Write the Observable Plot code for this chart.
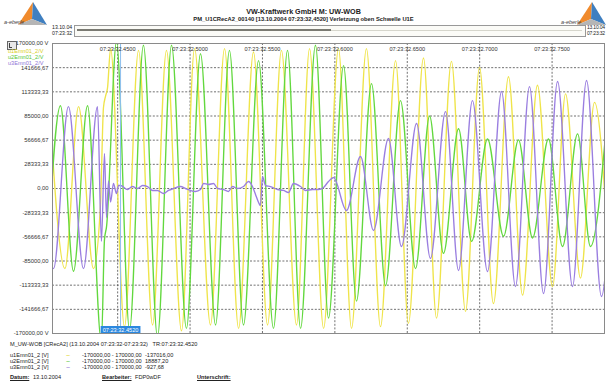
<!DOCTYPE html>
<html>
<head>
<meta charset="utf-8">
<script src="https://cdn.jsdelivr.net/npm/d3@7"></script>
<script src="https://cdn.jsdelivr.net/npm/@observablehq/plot@0.6"></script>
<style>
  html, body { margin: 0; padding: 0; background: #fff; }
  #page { position: relative; width: 607px; height: 385px; overflow: hidden;
          font-family: "Liberation Sans", Arial, sans-serif; color: #222; }
  #chart { position: absolute; left: 0; top: 0; }
  .t { position: absolute; white-space: nowrap; font-size: 5.6px; line-height: 1; }
  .b { font-weight: bold; }
  .u { text-decoration: underline; font-weight: bold; }
  .logo { position: absolute; }
</style>
</head>
<body>
<div id="page">
  <div id="chart"></div>

  <!-- header -->
  <svg class="logo" style="left:2px;top:1px" width="48" height="28" viewBox="0 0 48 28">
    <polygon points="31,1 16,24 30,18" fill="#f08a2c"/>
    <polygon points="31,1 30,18 45,24" fill="#3f7fc0"/>
    <polygon points="16,24 30,18 45,24" fill="#b5b5b5"/>
    <text x="2" y="23" font-size="5.5" font-style="italic" fill="#444" font-family="Liberation Sans, Arial">a-eberle</text>
  </svg>
  <svg class="logo" style="left:559px;top:1px" width="48" height="28" viewBox="0 0 48 28">
    <polygon points="33,1 18,24 32,18" fill="#f08a2c"/>
    <polygon points="33,1 32,18 47,24" fill="#3f7fc0"/>
    <polygon points="18,24 32,18 47,24" fill="#b5b5b5"/>
    <text x="2" y="23" font-size="5.5" font-style="italic" fill="#444" font-family="Liberation Sans, Arial">a-eberle</text>
  </svg>
  <div class="t b" style="left:0;width:607px;text-align:center;top:8px;font-size:7.2px">VW-Kraftwerk GmbH M: UW-WOB</div>
  <div class="t b" style="left:0;width:607px;text-align:center;top:17px;font-size:5.8px">PM_U1CRecA2_00140 [13.10.2004 07:23:32,4520] Verletzung oben Schwelle U1E</div>

  <div class="t" style="left:52px;top:25px;font-size:5.2px">13.10.04</div>
  <div class="t" style="left:52px;top:31px;font-size:5.2px">07:23:32</div>
  <div style="position:absolute;left:74px;top:25px;width:510px;height:10px;border:1px solid #999;background:#fbfbf7"></div>
  <div style="position:absolute;left:77px;top:30px;width:505px;height:1px;background:#d6d6cc"></div>
  <div style="position:absolute;left:77px;top:29px;width:254px;height:2px;background:#7a7a72"></div>
  <div class="t" style="left:587px;top:25px;font-size:5px;letter-spacing:-0.2px">13.10.04</div>
  <div class="t" style="left:587px;top:31px;font-size:5px;letter-spacing:-0.2px">07:23:32</div>

  <!-- channel legend -->
  <div style="position:absolute;left:7px;top:41px;width:8px;height:7px;border:1px solid #666;background:#e8e8e8"></div>
  <div style="position:absolute;left:9px;top:43px;width:2px;height:4px;border-left:1px solid #444;border-bottom:1px solid #444"></div>
  <div class="t" style="left:8px;top:49px;color:#d9cf1c">u1Emn01_2/V</div>
  <div class="t" style="left:8px;top:55px;color:#56c636">u2Emn01_2/V</div>
  <div class="t" style="left:8px;top:61px;color:#8f73d6">u3Emn01_2/V</div>

  <!-- footer -->
  <div class="t" style="left:10px;top:342px">M_UW-WOB [CRecA2] (13.10.2004 07:23:32-07:23:32)&nbsp;&nbsp;&nbsp;TR:07:23:32.4520</div>
  <div class="t" style="left:10px;top:353px">u1Emn01_2 [V]</div>
  <div class="t" style="left:66px;top:352px;color:#e0d420;font-size:7px">~</div>
  <div class="t" style="left:82px;top:353px">-170000,00 - 170000,00</div>
  <div class="t" style="left:145px;top:353px">-137016,00</div>
  <div class="t" style="left:10px;top:359px">u2Emn01_2 [V]</div>
  <div class="t" style="left:66px;top:358px;color:#56c636;font-size:7px">~</div>
  <div class="t" style="left:82px;top:359px">-170000,00 - 170000,00</div>
  <div class="t" style="left:145px;top:359px">18887,20</div>
  <div class="t" style="left:10px;top:365px">u3Emn01_2 [V]</div>
  <div class="t" style="left:66px;top:364px;color:#8f73d6;font-size:7px">~</div>
  <div class="t" style="left:82px;top:365px">-170000,00 - 170000,00</div>
  <div class="t" style="left:145px;top:365px">-927,68</div>
  <div class="t u" style="left:10px;top:375px">Datum:</div>
  <div class="t" style="left:33px;top:375px">13.10.2004</div>
  <div class="t u" style="left:102px;top:375px">Bearbeiter:</div>
  <div class="t" style="left:135px;top:375px">FDP0wDF</div>
  <div class="t u" style="left:197px;top:375px">Unterschrift:</div>
</div>

<script>
// Time axis in 1/10000 s after 07:23:32
const xTicks = [4500, 5000, 5500, 6000, 6500, 7000, 7500];
const yTicks = [170000, 141666.67, 113333.33, 85000, 56666.67, 28333.33, 0,
                -28333.33, -56666.67, -85000, -113333.33, -141666.67, -170000];
const triggerTime = 4520;

// Phase voltage u1 (turning points of the waveform)
const u1Time = [4029, 4136, 4230, 4333, 4381, 4402, 4416, 4430, 4451, 4547, 4644, 4741, 4837, 4941,
  5031, 5141, 5238, 5335, 5438, 5535, 5631, 5735, 5825, 5922, 6025, 6115, 6218, 6315, 6419, 6508,
  6612, 6702, 6805, 6902, 6999, 7095, 7199, 7296, 7399, 7503, 7593, 7696, 7793, 7897];
const u1Volt = [96000, -94000, 96000, -94000, -20000, 95000, 108000, 118000, 164000, -162000, 162000,
  -160000, 162000, -167000, 164000, -160000, 164000, -164000, 160000, -160000, 162000, -160000,
  164000, -164000, 164000, -164000, 164000, -162000, 150000, -158000, 153000, -152000, 149000,
  -144000, 142000, -135000, 131000, -125000, 121000, -115000, 111000, -105000, 101000, -98000];

// Phase voltage u2
const u2Time = [4009, 4105, 4195, 4292, 4388, 4409, 4423, 4492, 4582, 4678, 4775, 4872, 4975, 5072,
  5176, 5272, 5369, 5473, 5576, 5673, 5763, 5866, 5956, 6060, 6149, 6253, 6350, 6453, 6557, 6654,
  6750, 6854, 6944, 7054, 7165, 7268, 7365, 7475, 7572, 7676, 7765, 7876];
const u2Volt = [-97000, 97000, -97000, 97000, -180000, -60000, -45000, 172000, -166000, 168000,
  -174000, 168000, -164000, 158000, -160000, 162000, -160000, 150000, -164000, 162000, -164000,
  168000, -152000, 144000, -132000, 123000, -114000, 103000, -94000, 85000, -76000, 70000, -62000,
  58000, -56000, 57000, -58000, 58000, -68000, 64000, -68000, 76000];

// Phase voltage u3 (collapses at the fault, then recovers)
const u3Time = [3960, 4057, 4160, 4264, 4361, 4388, 4409, 4423, 4437, 4451, 4471, 4492, 4506, 4520,
  4568, 4602, 4637, 4672, 4706, 4741, 4775, 4817, 4851, 4886, 4934, 4968, 5003, 5038, 5072, 5093,
  5127, 5162, 5190, 5231, 5265, 5293, 5328, 5369, 5404, 5431, 5452, 5473, 5486, 5500, 5521, 5555,
  5604, 5645, 5680, 5714, 5763, 5797, 5846, 5887, 5922, 5956, 5991, 6080, 6177, 6267, 6370, 6460,
  6564, 6660, 6764, 6854, 6950, 7054, 7151, 7247, 7344, 7441, 7538, 7641, 7738, 7841, 7938];
const u3Volt = [96000, -94000, 96000, -94000, 96000, -62000, 41000, -34000, 9000, -16000, 6000,
  -6000, 3500, 3500, -1200, 2300, 0, 3500, 2300, -2300, -2300, -5900, -2300, 0, 2300, 0, -2300,
  -3500, -1200, 5900, 4700, 5900, 0, -1200, -3500, 2300, 0, 2300, 8200, 2300, -7000, -16400,
  -19900, 14100, 3500, 2300, -1200, -2300, -4700, 5900, 2300, -2300, -1200, -1200, 1200, 8200,
  12900, -25800, 37500, -49200, 58600, -68000, 76200, -82000, 90200, -96100, 103100, -97300,
  113700, -114900, 119500, -123100, 125400, -114900, 126600, -126600, 128000];

const rows = (ts, vs) => ts.map((t, i) => ({t, v: vs[i]}));
const u1 = rows(u1Time, u1Volt);
const u2 = rows(u2Time, u2Volt);
const u3 = rows(u3Time, u3Volt);

const stamp = d => `07:23:32.${d}`;
const yFmt = v => {
  const s = v.toFixed(2).replace(".", ",");
  return Math.abs(v) === 170000 ? s + " V" : s;
};
const grid = {stroke: "#4d4d4d", strokeOpacity: 1, strokeDasharray: "2,1.6", strokeWidth: 0.8};
const lineOpts = {x: "t", y: "v", curve: "monotone-x", clip: true, strokeWidth: 1.35};

const chart = Plot.plot({
  width: 607,
  height: 385,
  marginLeft: 52,
  marginRight: 3,
  marginTop: 43,
  marginBottom: 52,
  style: {fontFamily: "Liberation Sans, Arial, sans-serif", background: "transparent"},
  x: {domain: [4050, 7862], axis: null},
  y: {domain: [-170000, 170000], axis: null},
  marks: [
    Plot.gridY(yTicks.filter(v => Math.abs(v) < 170000), grid),
    Plot.gridX(xTicks, grid),
    Plot.line(u1, {...lineOpts, stroke: "#efe44a"}),
    Plot.line(u2, {...lineOpts, stroke: "#62d83e"}),
    Plot.line(u3, {...lineOpts, stroke: "#9a7ee0"}),
    Plot.ruleX([triggerTime], {stroke: "#8dbfee", strokeWidth: 1}),
    Plot.frame({stroke: "#8a8a8a"}),
    Plot.axisY(yTicks, {tickSize: 0, tickPadding: 4, tickFormat: yFmt, fontSize: 5.8,
                        fill: "#333", label: null}),
    Plot.text(xTicks, {x: d => d, frameAnchor: "top", dy: 4, text: stamp, fontSize: 5.6, fill: "#333"}),
    Plot.text([triggerTime], {x: d => d, frameAnchor: "bottom", dy: -2, text: stamp,
                              fontSize: 5.6, fill: "white"})
  ]
});
document.getElementById("chart").append(chart);

// Blue box behind the trigger-time label
d3.select(chart).selectAll("text")
  .filter(function() { return this.textContent === stamp(triggerTime); })
  .each(function() {
    const b = this.getBBox();
    d3.select(this.parentNode).insert("rect", () => this)
      .attr("transform", this.getAttribute("transform"))
      .attr("x", b.x - 2).attr("y", b.y - 0.5)
      .attr("width", b.width + 4).attr("height", b.height + 1)
      .attr("fill", "#2b88df");
  });
</script>
</body>
</html>
